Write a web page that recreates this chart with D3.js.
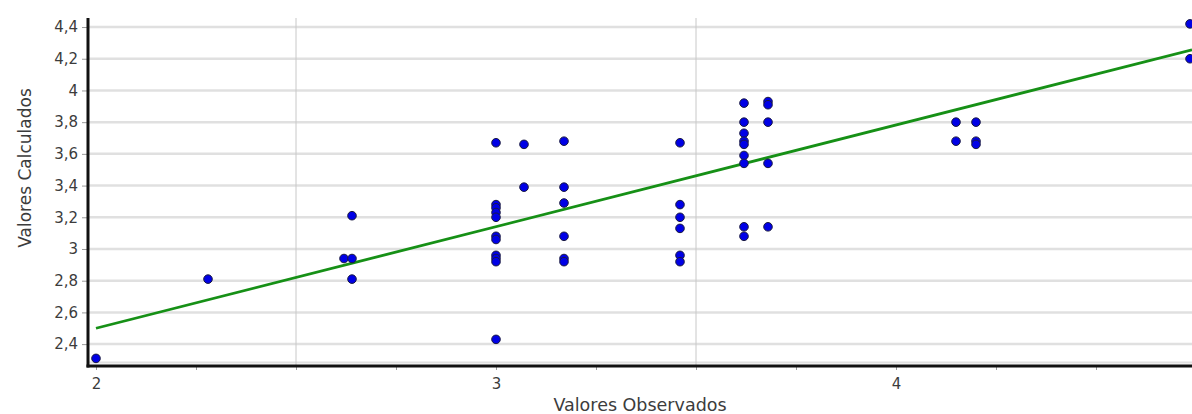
<!DOCTYPE html>
<html>
  <head>
      <meta charset="utf-8">
      <script src="https://cdnjs.cloudflare.com/ajax/libs/d3/7.8.5/d3.min.js"></script>
      <style>
        body { margin: 0; background: #fff; }
        text { font-family: "DejaVu Sans", sans-serif; fill: #3c3c3c; }
      </style>
  </head>
  <body>
    <div id="vis"></div>
    <script type="text/javascript">

        const observados = [
            2.00, 2.28, 2.62, 2.64, 2.64, 2.64,
            3.00, 3.00, 3.00, 3.00, 3.00, 3.00, 3.00, 3.00, 3.00, 3.00, 3.00,
            3.07, 3.07,
            3.17, 3.17, 3.17, 3.17, 3.17, 3.17,
            3.46, 3.46, 3.46, 3.46, 3.46, 3.46,
            3.62, 3.62, 3.62, 3.62, 3.62, 3.62, 3.62, 3.62, 3.62,
            3.68, 3.68, 3.68, 3.68, 3.68,
            4.15, 4.15, 4.20, 4.20, 4.20,
            4.735, 4.735
        ];
        const calculados = [
            2.31, 2.81, 2.94, 2.94, 3.21, 2.81,
            3.67, 3.28, 3.26, 3.23, 3.20, 3.08, 3.06, 2.96, 2.94, 2.92, 2.43,
            3.66, 3.39,
            3.68, 3.39, 3.29, 3.08, 2.94, 2.92,
            3.67, 3.28, 3.20, 3.13, 2.96, 2.92,
            3.92, 3.80, 3.73, 3.68, 3.66, 3.59, 3.54, 3.14, 3.08,
            3.93, 3.91, 3.80, 3.54, 3.14,
            3.80, 3.68, 3.80, 3.68, 3.66,
            4.42, 4.20
        ];

        // fitted line  calc = a + b * obs
        const fitIntercept = 1.218;
        const fitSlope = 0.641;

        const xTicks = [2, 2.25, 2.5, 2.75, 3, 3.25, 3.5, 3.75, 4, 4.25, 4.5];
        const xLabels = [2, 3, 4];
        const xGrid = [2.5, 3.5];
        const yTicks = [2.4, 2.6, 2.8, 3, 3.2, 3.4, 3.6, 3.8, 4, 4.2, 4.4];

        const W = 1192, H = 414;
        const svg = d3.select("#vis").append("svg")
            .attr("width", W)
            .attr("height", H);

        const x = d3.scaleLinear().domain([1.98, 4.74]).range([88, 1192]);
        const y = d3.scaleLinear().domain([2.262, 4.457]).range([366, 18]);

        const fmt = d => String(+d.toFixed(1)).replace(".", ",");

        // horizontal grid
        svg.append("g").selectAll("line")
            .data(yTicks)
            .enter().append("line")
            .attr("x1", x.range()[0]).attr("x2", x.range()[1])
            .attr("y1", d => y(d)).attr("y2", d => y(d))
            .attr("stroke", "#e0e0e0")
            .attr("stroke-width", 2.5);

        // light line just above the bottom axis
        svg.append("line")
            .attr("x1", x.range()[0]).attr("x2", x.range()[1])
            .attr("y1", y.range()[0] - 3.5).attr("y2", y.range()[0] - 3.5)
            .attr("stroke", "#e0e0e0")
            .attr("stroke-width", 2);

        // vertical grid
        svg.append("g").selectAll("line")
            .data(xGrid)
            .enter().append("line")
            .attr("x1", d => x(d)).attr("x2", d => x(d))
            .attr("y1", y.range()[1]).attr("y2", y.range()[0])
            .attr("stroke", "#c8c8c8")
            .attr("stroke-width", 1);

        // axes
        const yAxis = svg.append("g")
            .attr("transform", "translate(88,0)")
            .call(d3.axisLeft(y).tickValues(yTicks).tickSize(6).tickPadding(4).tickFormat(fmt));
        yAxis.select(".domain").remove();
        yAxis.selectAll("line").attr("stroke", "#999");
        yAxis.selectAll("text").style("font-size", "15px").attr("fill", "#3c3c3c");

        const xAxis = svg.append("g")
            .attr("transform", "translate(0,366)")
            .call(d3.axisBottom(x).tickValues(xTicks).tickSize(4).tickPadding(8)
                .tickFormat(d => xLabels.includes(d) ? fmt(d) : ""));
        xAxis.select(".domain").remove();
        xAxis.selectAll("line").attr("stroke", "#999");
        xAxis.selectAll("text").style("font-size", "15px").attr("fill", "#3c3c3c");

        svg.append("line")
            .attr("x1", 88).attr("x2", 88)
            .attr("y1", y.range()[1]).attr("y2", y.range()[0] + 1.5)
            .attr("stroke", "#111").attr("stroke-width", 3);
        svg.append("line")
            .attr("x1", 86.5).attr("x2", x.range()[1])
            .attr("y1", 366).attr("y2", 366)
            .attr("stroke", "#111").attr("stroke-width", 3);

        // fitted line
        const fitX = [2, x.domain()[1]];
        svg.append("line")
            .attr("x1", x(fitX[0])).attr("x2", x(fitX[1]))
            .attr("y1", y(fitIntercept + fitSlope * fitX[0]))
            .attr("y2", y(fitIntercept + fitSlope * fitX[1]))
            .attr("stroke", "#169016")
            .attr("stroke-width", 2.8);

        // points
        svg.append("g").selectAll("circle")
            .data(observados.map((o, i) => [o, calculados[i]]))
            .enter().append("circle")
            .attr("cx", d => x(d[0]))
            .attr("cy", d => y(d[1]))
            .attr("r", 4.3)
            .attr("fill", "#0000e6")
            .attr("stroke", "#1a1a40")
            .attr("stroke-width", 1);

        // axis titles
        svg.append("text")
            .attr("x", (x.range()[0] + x.range()[1]) / 2)
            .attr("y", 411)
            .attr("text-anchor", "middle")
            .style("font-size", "17.5px")
            .text("Valores Observados");

        svg.append("text")
            .attr("transform", "translate(31,168) rotate(-90)")
            .attr("text-anchor", "middle")
            .style("font-size", "17px")
            .text("Valores Calculados");

    </script>
  </body>
</html>
